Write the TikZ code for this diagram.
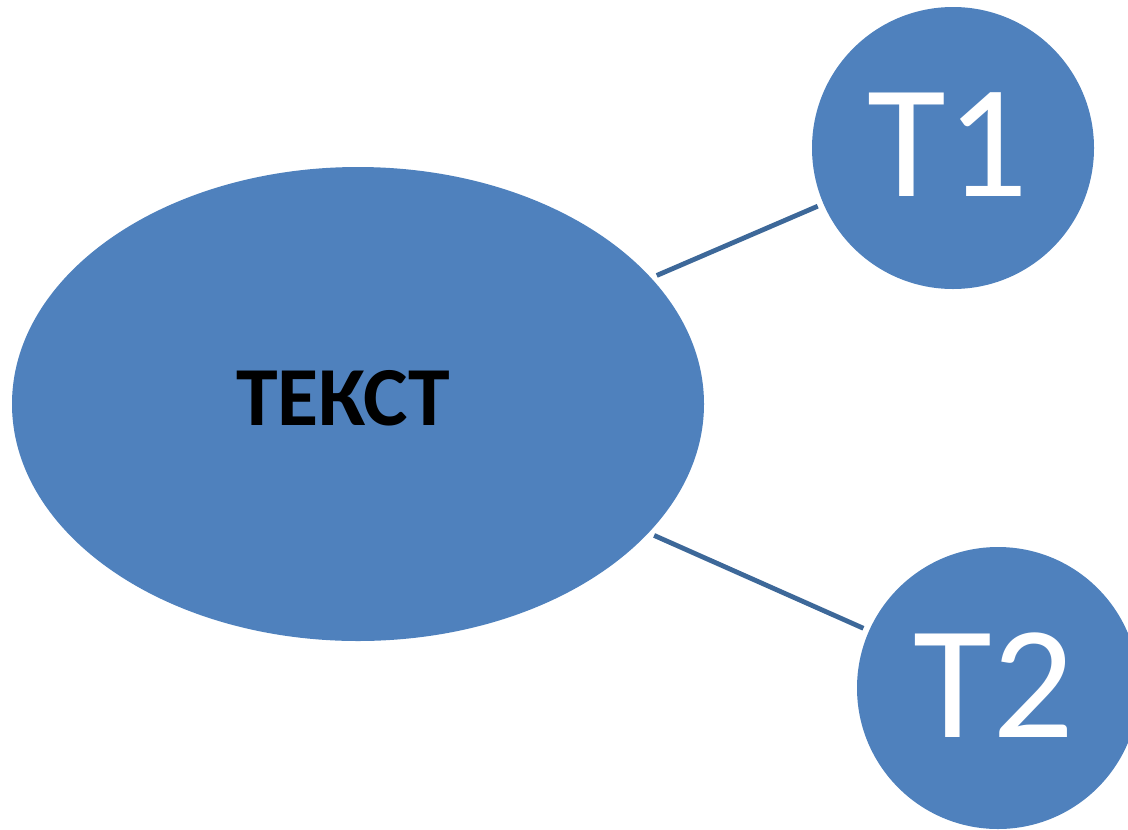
\documentclass[tikz,border=0pt]{standalone}
\usepackage{fontspec}
\setmainfont{Carlito}
\usetikzlibrary{shapes.geometric}
\definecolor{bubblefill}{HTML}{4F81BD}
\definecolor{linkline}{HTML}{3D6899}
\begin{document}
\begin{tikzpicture}[x=0.75pt, y=-0.75pt,
  bubble/.style={fill=bubblefill, draw=none, inner sep=0pt},
  bigbubble/.style={bubble, ellipse, minimum width=519pt, minimum height=355.5pt},
  smallbubble/.style={bubble, circle, minimum size=211.5pt},
  link/.style={draw=linkline, line width=3.6pt, shorten <=4.5pt, shorten >=4.5pt},
  bigtext/.style={font=\bfseries\fontsize{63pt}{70pt}\selectfont, text=black, inner sep=0pt, anchor=base},
  smalltext/.style={font=\fontsize{121pt}{130pt}\selectfont, text=white, inner sep=0pt, anchor=base}]
  \useasboundingbox (0,0) rectangle (1128,829);
  \clip (0,0) rectangle (1128,829);
  % shapes
  \node[bigbubble] (main) at (358,404) {};
  \node[smallbubble] (t1) at (953,148) {};
  \node[smallbubble] (t2) at (998,688) {};
  % connectors
  \draw[link] (main) -- (t1);
  \draw[link] (main) -- (t2);
  % labels
  \node[bigtext] (maintext) at (343,425) {ТЕКСТ};
  \node[smalltext] (t1text) at (948,196) {T1};
  \node[smalltext] (t2text) at (994,737) {T2};
\end{tikzpicture}
\end{document}
